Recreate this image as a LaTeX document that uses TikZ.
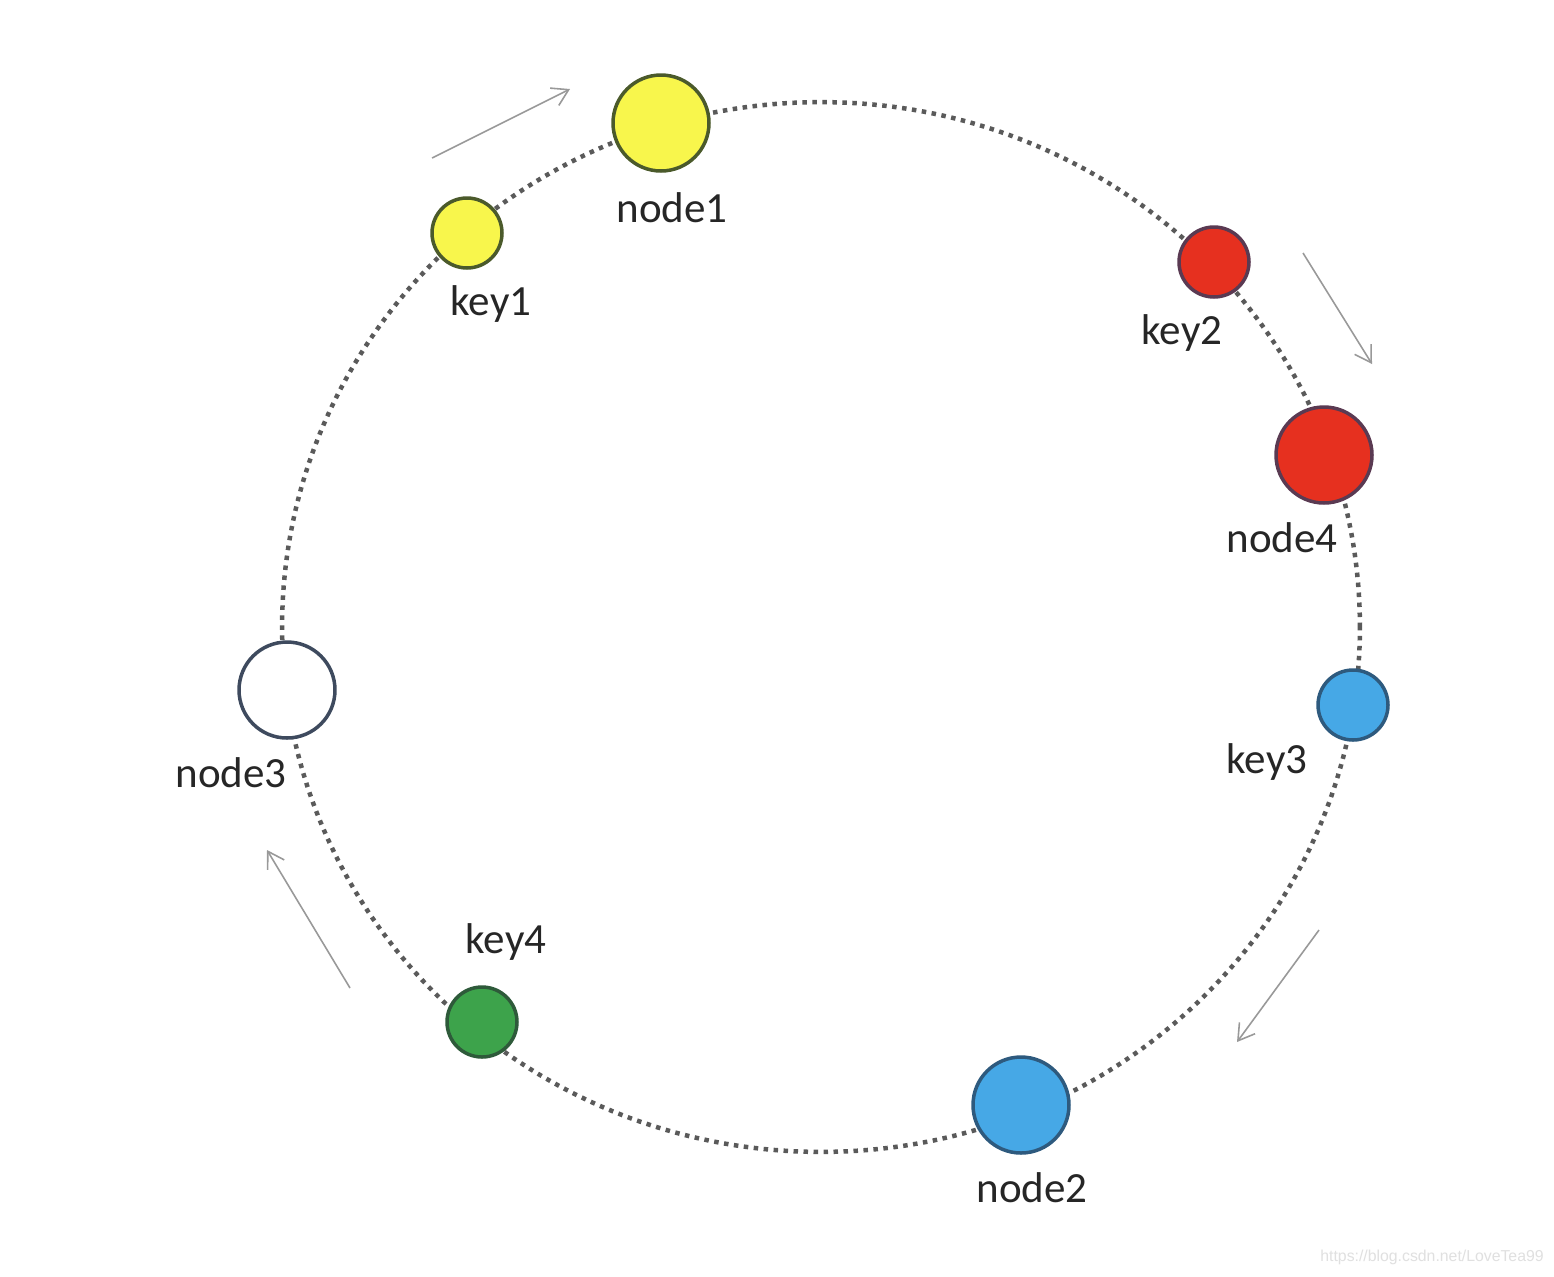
\documentclass[tikz,border=0pt]{standalone}
\usepackage{fontspec}
\setmainfont{Carlito}
\newfontfamily\markfont{Liberation Sans}
\usetikzlibrary{arrows.meta,positioning,shapes}
\definecolor{ringgray}{HTML}{5A5A5A}
\definecolor{yellowfill}{HTML}{F8F64C}
\definecolor{yellowedge}{HTML}{4B5A2B}
\definecolor{redfill}{HTML}{E6301F}
\definecolor{rededge}{HTML}{5A3A52}
\definecolor{bluefill}{HTML}{46A8E6}
\definecolor{blueedge}{HTML}{2E5A7E}
\definecolor{greenfill}{HTML}{3DA34B}
\definecolor{greenedge}{HTML}{2E5A3A}
\definecolor{whiteedge}{HTML}{3E4A5E}
\tikzstyle{big} = [circle, inner sep=0pt, minimum size=1.92cm, line width=0.07cm]
\tikzstyle{small} = [circle, inner sep=0pt, minimum size=1.40cm, line width=0.07cm]
\tikzstyle{lbl} = [font=\fontsize{24.5}{29}\selectfont, text=black!85, anchor=base, inner sep=0pt]
\tikzstyle{ring} = [ringgray, line width=0.09cm, dash pattern=on 0.09cm off 0.11cm]
\tikzstyle{flow} = [draw=black!40, line width=0.9pt, -{Straight Barb[length=9pt,width=11pt]}]

\begin{document}
\begin{tikzpicture}[x=0.02cm,y=-0.02cm]
\useasboundingbox [fill=white] (0,0) rectangle (1554,1276);
\draw [ring] (821,627) ellipse [x radius=10.78cm, y radius=10.5cm];
% nodes on the ring
\draw (661,123) node (node1) [big, draw=yellowedge, fill=yellowfill] {};
\draw (1324,455) node (node4) [big, draw=rededge, fill=redfill] {};
\draw (1021,1105) node (node2) [big, draw=blueedge, fill=bluefill] {};
\draw (287,690) node (node3) [big, draw=whiteedge, fill=white] {};
% keys on the ring
\draw (467,233) node (key1) [small, draw=yellowedge, fill=yellowfill] {};
\draw (1214,262) node (key2) [small, draw=rededge, fill=redfill] {};
\draw (1353,705) node (key3) [small, draw=blueedge, fill=bluefill] {};
\draw (482,1022) node (key4) [small, draw=greenedge, fill=greenfill] {};
% labels
\draw (672,222) node (l1) [lbl] {node1};
\draw (1282,552) node (l4) [lbl] {node4};
\draw (1032,1202) node (l2) [lbl] {node2};
\draw (231,787) node (l3) [lbl] {node3};
\draw (491,315) node (k1) [lbl] {key1};
\draw (1182,344) node (k2) [lbl] {key2};
\draw (1267,773) node (k3) [lbl] {key3};
\draw (506,953) node (k4) [lbl] {key4};
% direction arrows
\coordinate (a1) at (432,158);
\coordinate (b1) at (570,89);
\coordinate (a2) at (1303,253);
\coordinate (b2) at (1372,364);
\coordinate (a3) at (1319,930);
\coordinate (b3) at (1237,1042);
\coordinate (a4) at (350,988);
\coordinate (b4) at (267,850);
\draw [flow] (a1)--(b1);
\draw [flow] (a2)--(b2);
\draw [flow] (a3)--(b3);
\draw [flow] (a4)--(b4);
\draw (1432,1257) node (mark) [font=\markfont\fontsize{9}{11}\selectfont, text=black!12, inner sep=0pt] {https://blog.csdn.net/LoveTea99};
\end{tikzpicture}
\end{document}
